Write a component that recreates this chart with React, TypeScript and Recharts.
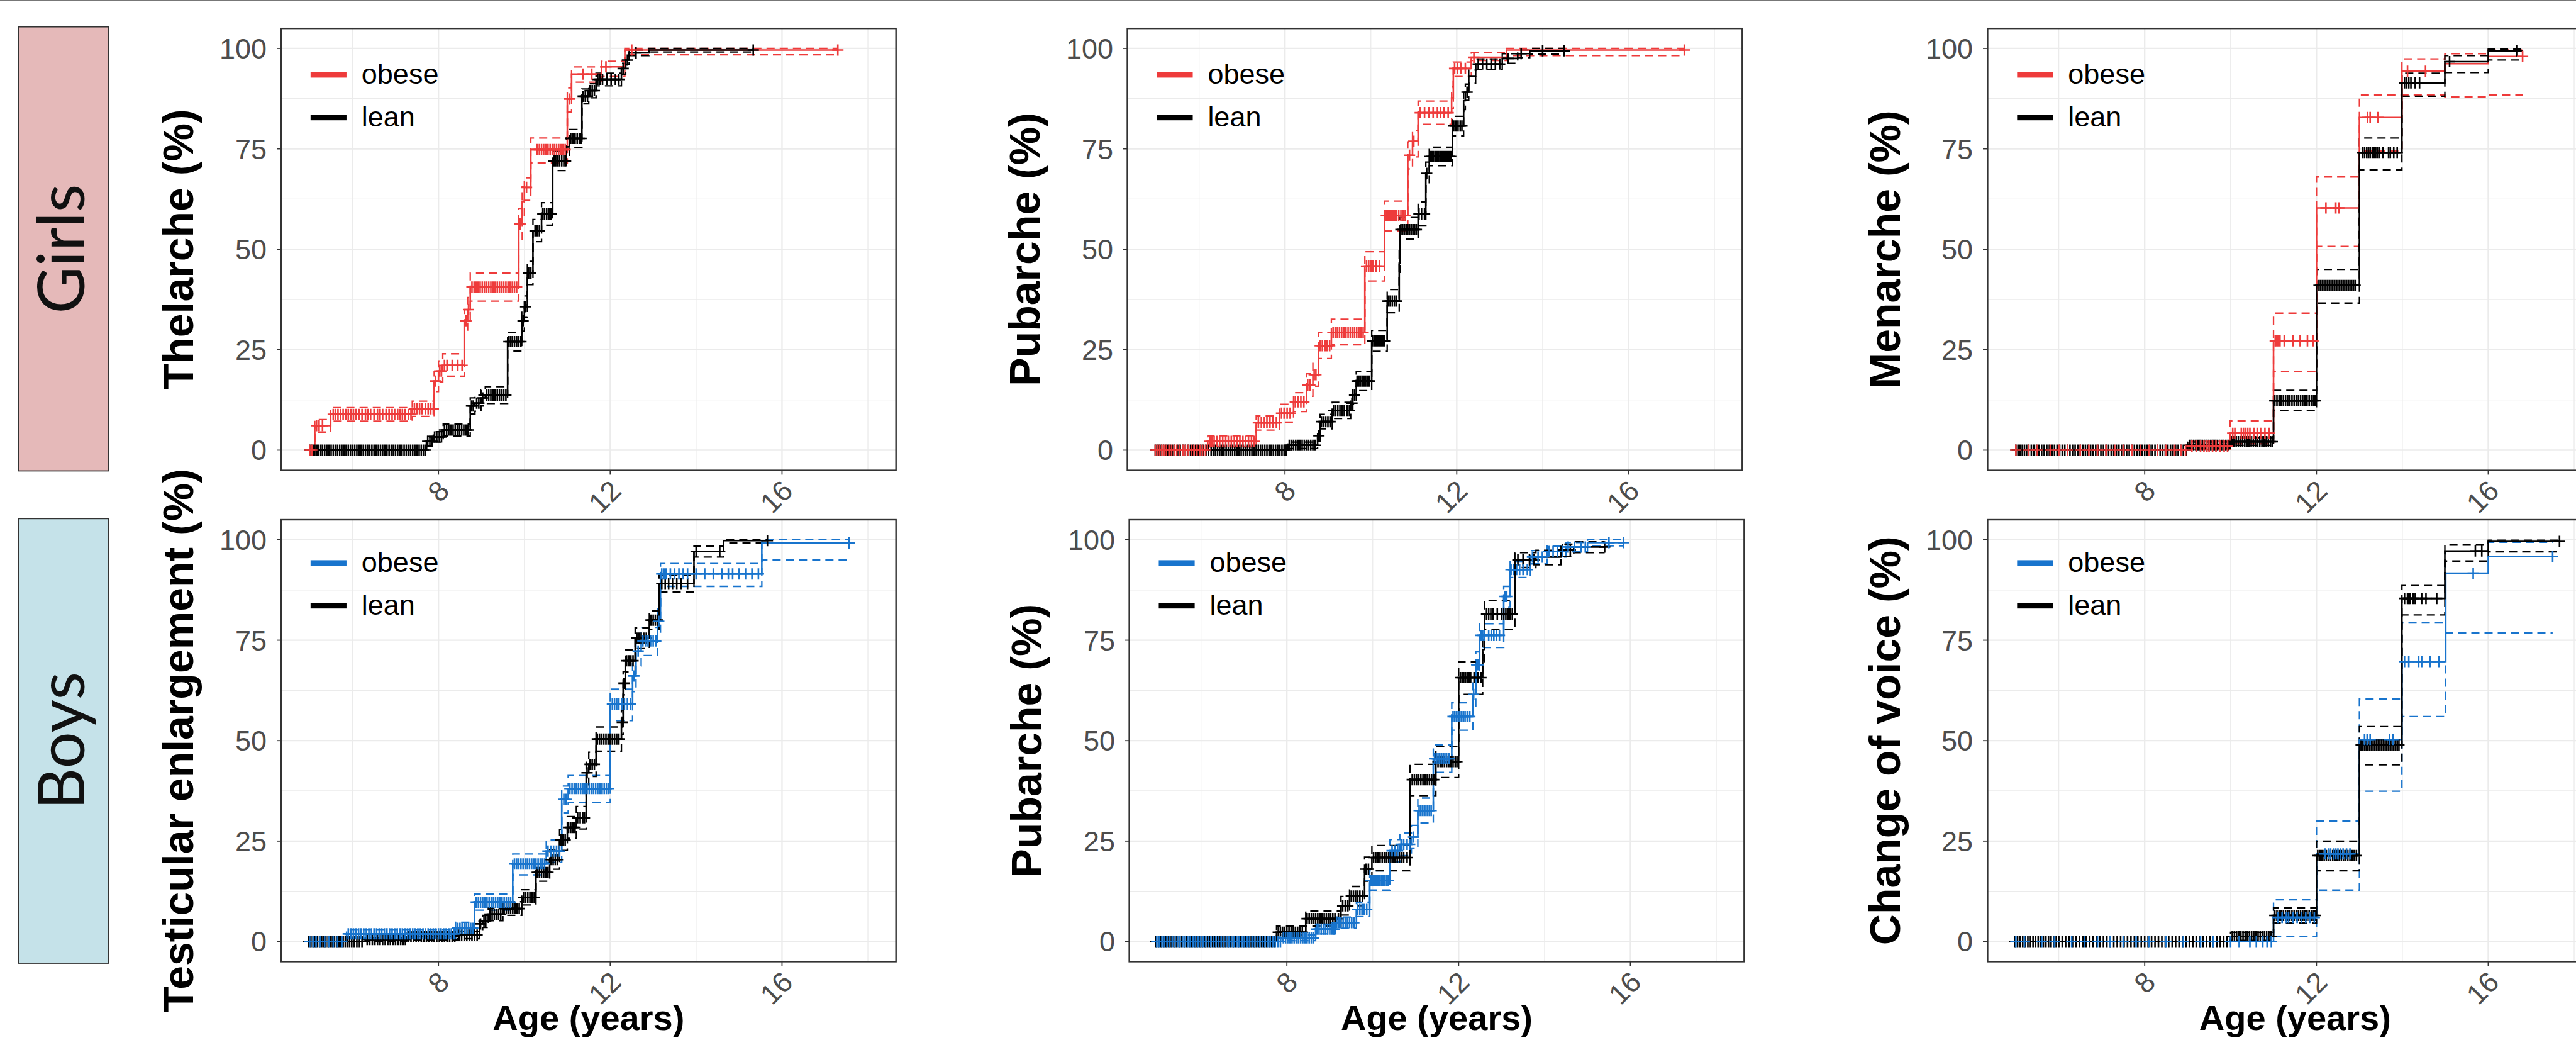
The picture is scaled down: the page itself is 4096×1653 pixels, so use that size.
import React from "react";
import { ComposedChart, Line, Scatter, XAxis, YAxis, CartesianGrid } from "recharts";

// Reference is 4805 px wide; everything is measured there and scaled down.
const S = 4096 / 4805;

// [age, estimate %, lower CI %, upper CI %]
type Step = [number, number, number, number];

// ── Girls · Thelarche ─────────────────────────────────────────────────────────
const thelarcheObese: Step[] = [
  [5.0, 0, 0, 0], [5.12, 6.1, 4.5, 7.6], [5.49, 8.9, 7.2, 10.6], [7.39, 10.3, 8.4, 12.2],
  [7.9, 17.2, 14.6, 19.6], [8.0, 19.7, 17.0, 22.2], [8.1, 21.1, 18.4, 24.0], [8.6, 32.2, 29.2, 35.0],
  [8.68, 35.0, 32.0, 38.0], [8.74, 40.6, 37.1, 44.1], [9.87, 56.3, 52.4, 60.2], [9.95, 61.9, 58.0, 65.5],
  [10.0, 65.4, 62.2, 67.8], [10.15, 74.8, 71.5, 77.7], [11.0, 87.4, 84.2, 90.2], [11.1, 93.6, 91.6, 95.4],
  [11.8, 95.4, 93.0, 96.8], [12.34, 99.6, 98.4, 100], [17.3, 99.6, 98.4, 100],
];
const thelarcheObeseCensor = [
  5.0, 5.05, 5.16, 5.22, 5.3, 5.55, 5.6, 5.66, 5.72, 5.78, 5.84, 5.9, 5.96, 6.02, 6.08, 6.15, 6.22, 6.3,
  6.36, 6.42, 6.5, 6.58, 6.64, 6.7, 6.78, 6.85, 6.92, 6.98, 7.05, 7.1, 7.16, 7.22, 7.3, 7.36, 7.44, 7.5,
  7.56, 7.62, 7.7, 7.76, 7.82, 7.88, 7.93, 8.03, 8.07, 8.14, 8.2, 8.32, 8.45, 8.55, 8.64, 8.7, 8.78, 8.83,
  8.88, 8.92, 8.97, 9.02, 9.07, 9.12, 9.17, 9.22, 9.27, 9.32, 9.37, 9.42, 9.47, 9.52, 9.57, 9.62, 9.67,
  9.72, 9.77, 9.82, 9.9, 10.05, 10.3, 10.35, 10.4, 10.45, 10.5, 10.55, 10.6, 10.65, 10.7, 10.75, 10.8,
  10.85, 10.9, 10.95, 11.05, 11.37, 11.57, 11.9, 12.5, 17.3,
];
const thelarcheLean: Step[] = [
  [4.98, 0, 0, 0], [7.72, 2.2, 1.0, 3.4], [7.88, 3.3, 2.0, 4.6], [8.11, 5.0, 3.5, 6.5],
  [8.74, 11.0, 9.0, 13.0], [8.85, 11.7, 9.7, 13.7], [8.99, 13.0, 11.0, 15.0], [9.09, 13.7, 11.6, 15.8],
  [9.61, 27.0, 24.7, 29.3], [9.94, 32.2, 29.6, 34.8], [10.0, 35.7, 33.0, 38.4], [10.07, 44.1, 41.2, 47.0],
  [10.2, 54.6, 51.9, 57.4], [10.4, 58.8, 56.0, 61.6], [10.66, 72.0, 69.6, 74.4], [10.98, 75.5, 73.1, 77.8],
  [11.05, 77.6, 75.3, 79.8], [11.34, 88.1, 86.2, 89.9], [11.5, 89.5, 87.7, 91.2], [11.67, 92.3, 90.7, 93.8],
  [12.26, 95.0, 93.6, 96.3], [12.36, 97.1, 96.0, 98.2], [12.44, 98.9, 98.2, 99.6], [12.9, 99.6, 99.1, 100],
  [15.33, 99.6, 99.1, 100],
];
const thelarcheLeanCensor = [
  5.0, 5.04, 5.08, 5.12, 5.17, 5.21, 5.26, 5.3, 5.35, 5.4, 5.45, 5.5, 5.55, 5.6, 5.65, 5.7, 5.75, 5.8, 5.85,
  5.9, 5.95, 6.0, 6.05, 6.1, 6.15, 6.2, 6.25, 6.3, 6.35, 6.4, 6.45, 6.5, 6.55, 6.6, 6.65, 6.7, 6.75, 6.8,
  6.85, 6.9, 6.95, 7.0, 7.05, 7.1, 7.15, 7.2, 7.25, 7.3, 7.35, 7.4, 7.45, 7.5, 7.55, 7.6, 7.65, 7.7, 7.75,
  7.8, 7.85, 7.91, 7.96, 8.02, 8.07, 8.14, 8.19, 8.24, 8.29, 8.34, 8.39, 8.44, 8.49, 8.54, 8.59, 8.64, 8.69,
  8.77, 8.81, 8.89, 8.94, 9.03, 9.12, 9.17, 9.22, 9.27, 9.32, 9.37, 9.42, 9.47, 9.52, 9.57, 9.64, 9.68,
  9.72, 9.77, 9.82, 9.87, 9.92, 9.97, 10.03, 10.1, 10.15, 10.25, 10.3, 10.35, 10.43, 10.47, 10.52, 10.57,
  10.62, 10.69, 10.73, 10.78, 10.82, 10.87, 10.92, 10.96, 11.08, 11.13, 11.18, 11.23, 11.28, 11.32, 11.37,
  11.42, 11.47, 11.53, 11.58, 11.63, 11.71, 11.76, 11.82, 11.92, 12.02, 12.12, 12.2, 12.3, 12.4, 12.6, 15.33,
];

// ── Girls · Pubarche ──────────────────────────────────────────────────────────
const pubGirlsObese: Step[] = [
  [4.96, 0, 0, 0], [6.2, 2.2, 0.8, 3.6], [7.33, 6.8, 5.0, 8.5], [7.87, 9.2, 7.0, 11.4],
  [8.2, 12.0, 9.6, 14.3], [8.5, 16.2, 13.4, 19.0], [8.65, 18.8, 15.9, 21.8], [8.78, 26.0, 22.8, 29.3],
  [9.08, 29.3, 26.2, 32.6], [9.86, 45.8, 42.1, 49.4], [10.32, 58.4, 54.6, 62.0], [10.86, 73.4, 70.0, 76.7],
  [10.97, 76.9, 73.0, 79.5], [11.1, 84.0, 81.1, 86.9], [11.88, 87.7, 85.0, 90.4], [11.92, 95.0, 93.0, 96.6],
  [12.34, 97.8, 97.0, 98.9], [13.16, 99.6, 98.2, 100], [17.3, 99.6, 98.2, 100],
];
const pubGirlsObeseCensor = [
  4.98, 5.03, 5.08, 5.13, 5.18, 5.24, 5.3, 5.36, 5.42, 5.48, 5.55, 5.62, 5.68, 5.75, 5.82, 5.88, 5.95, 6.02,
  6.08, 6.15, 6.25, 6.3, 6.35, 6.42, 6.48, 6.55, 6.62, 6.68, 6.75, 6.82, 6.88, 6.95, 7.02, 7.08, 7.15, 7.22,
  7.28, 7.38, 7.45, 7.52, 7.58, 7.65, 7.72, 7.8, 7.92, 7.98, 8.05, 8.12, 8.24, 8.3, 8.37, 8.44, 8.53, 8.58,
  8.68, 8.72, 8.82, 8.87, 8.93, 8.98, 9.04, 9.12, 9.17, 9.22, 9.27, 9.32, 9.37, 9.42, 9.47, 9.52, 9.57,
  9.62, 9.67, 9.72, 9.77, 9.82, 9.9, 9.95, 10.0, 10.05, 10.12, 10.2, 10.36, 10.4, 10.44, 10.48, 10.52,
  10.56, 10.6, 10.65, 10.7, 10.75, 10.8, 10.9, 11.0, 11.15, 11.25, 11.35, 11.45, 11.55, 11.62, 11.7, 11.8,
  11.95, 12.02, 12.1, 12.2, 12.4, 17.3,
];
const pubGirlsLean: Step[] = [
  [4.96, 0, 0, 0], [8.07, 1.2, 0.4, 2.0], [8.76, 3.6, 2.2, 5.0], [8.82, 7.1, 5.3, 8.9],
  [9.1, 9.9, 7.9, 11.9], [9.53, 11.7, 9.6, 13.8], [9.58, 13.7, 11.5, 15.9], [9.66, 17.2, 14.8, 19.6],
  [10.02, 27.2, 24.6, 29.8], [10.38, 37.1, 34.2, 40.0], [10.66, 46.5, 43.4, 49.6], [10.68, 54.9, 52.5, 57.9],
  [11.1, 58.8, 55.8, 61.8], [11.28, 68.9, 66.0, 71.7], [11.36, 73.1, 70.8, 75.4], [11.9, 80.7, 78.2, 83.1],
  [12.16, 87.0, 84.8, 89.1], [12.2, 89.1, 87.1, 91.1], [12.28, 93.0, 91.3, 94.6], [12.44, 96.1, 94.7, 97.4],
  [13.06, 97.5, 96.3, 98.7], [13.42, 98.7, 97.7, 99.6], [13.7, 99.4, 98.6, 100], [14.5, 99.4, 98.6, 100],
];
const pubGirlsLeanCensor = [
  4.98, 5.02, 5.07, 5.12, 5.17, 5.22, 5.27, 5.33, 5.38, 5.43, 5.5, 5.56, 5.62, 5.68, 5.74, 5.8, 5.86, 5.92,
  5.98, 6.04, 6.1, 6.16, 6.22, 6.28, 6.33, 6.38, 6.43, 6.48, 6.53, 6.58, 6.63, 6.68, 6.73, 6.78, 6.83, 6.88,
  6.93, 6.98, 7.03, 7.08, 7.13, 7.18, 7.23, 7.28, 7.33, 7.38, 7.43, 7.48, 7.53, 7.58, 7.63, 7.68, 7.73,
  7.78, 7.83, 7.88, 7.93, 7.98, 8.03, 8.1, 8.15, 8.2, 8.25, 8.3, 8.35, 8.4, 8.45, 8.5, 8.55, 8.6, 8.65, 8.7,
  8.79, 8.85, 8.9, 8.95, 9.0, 9.05, 9.13, 9.18, 9.23, 9.28, 9.33, 9.38, 9.45, 9.5, 9.56, 9.62, 9.68, 9.72,
  9.76, 9.8, 9.84, 9.88, 9.92, 9.96, 10.04, 10.08, 10.12, 10.16, 10.2, 10.24, 10.28, 10.32, 10.4, 10.45,
  10.5, 10.55, 10.6, 10.7, 10.74, 10.78, 10.82, 10.86, 10.9, 10.94, 10.98, 11.02, 11.06, 11.12, 11.18,
  11.25, 11.3, 11.38, 11.42, 11.46, 11.5, 11.54, 11.58, 11.62, 11.66, 11.7, 11.74, 11.78, 11.82, 11.86,
  11.93, 11.98, 12.03, 12.08, 12.12, 12.24, 12.5, 12.6, 12.7, 12.8, 12.9, 13.0, 13.2, 13.5, 14.0, 14.5,
];

// ── Girls · Menarche ──────────────────────────────────────────────────────────
const menarcheObese: Step[] = [
  [5.0, 0, 0, 0], [9.0, 1.0, 0.2, 2.2], [9.99, 4.2, 1.6, 7.3], [11.0, 27.2, 19.5, 34.1],
  [12.0, 60.3, 50.7, 68.0], [13.0, 82.8, 74.5, 88.4], [13.99, 94.3, 88.4, 97.4], [14.99, 96.2, 87.9, 98.7],
  [16.0, 98.0, 88.4, 99.6], [16.8, 98.0, 88.4, 99.6],
];
const menarcheObeseCensor = [
  5.0, 5.3, 5.5, 5.8, 6.0, 6.2, 6.5, 6.7, 6.9, 7.1, 7.3, 7.5, 7.7, 7.9, 8.1, 8.3, 8.5, 8.7, 8.85, 8.95,
  9.1, 9.2, 9.3, 9.38, 9.45, 9.5, 9.58, 9.66, 9.75, 9.85, 9.93, 10.05, 10.1, 10.25, 10.3, 10.35, 10.4,
  10.45, 10.55, 10.62, 10.7, 10.8, 10.9, 11.04, 11.07, 11.1, 11.15, 11.25, 11.45, 11.62, 11.79, 11.92,
  12.22, 12.45, 12.52, 13.19, 13.25, 13.43, 14.12, 14.54, 16.8,
];
const menarcheLean: Step[] = [
  [5.0, 0, 0, 0], [9.0, 1.2, 0.5, 2.0], [9.99, 2.1, 1.2, 3.1], [11.0, 12.3, 9.8, 14.9],
  [12.0, 41.0, 36.6, 45.0], [13.0, 74.1, 69.8, 77.7], [13.99, 91.4, 88.1, 93.8], [14.99, 96.7, 94.0, 98.2],
  [16.0, 99.4, 97.1, 99.8], [16.8, 99.4, 97.1, 99.8],
];
const menarcheLeanCensor = [
  5.0, 5.05, 5.1, 5.15, 5.2, 5.25, 5.3, 5.36, 5.42, 5.48, 5.54, 5.6, 5.66, 5.72, 5.78, 5.84, 5.9, 5.96,
  6.02, 6.08, 6.14, 6.2, 6.26, 6.32, 6.38, 6.44, 6.5, 6.56, 6.62, 6.68, 6.74, 6.8, 6.86, 6.92, 6.98, 7.04,
  7.1, 7.16, 7.22, 7.28, 7.34, 7.4, 7.46, 7.52, 7.58, 7.64, 7.7, 7.76, 7.82, 7.88, 7.94, 8.0, 8.06, 8.12,
  8.18, 8.24, 8.3, 8.36, 8.42, 8.48, 8.54, 8.6, 8.66, 8.72, 8.78, 8.84, 8.9, 8.96, 9.04, 9.09, 9.14, 9.19,
  9.24, 9.29, 9.34, 9.39, 9.44, 9.49, 9.54, 9.59, 9.64, 9.69, 9.74, 9.79, 9.84, 9.89, 9.94, 10.03, 10.08,
  10.13, 10.18, 10.23, 10.28, 10.33, 10.38, 10.43, 10.48, 10.53, 10.58, 10.63, 10.68, 10.73, 10.78, 10.83,
  10.88, 10.93, 10.97, 11.03, 11.08, 11.13, 11.18, 11.23, 11.28, 11.33, 11.38, 11.43, 11.48, 11.53, 11.58,
  11.63, 11.68, 11.73, 11.78, 11.83, 11.88, 11.93, 11.97, 12.06, 12.1, 12.14, 12.18, 12.22, 12.26, 12.3,
  12.34, 12.38, 12.42, 12.46, 12.5, 12.54, 12.58, 12.62, 12.66, 12.7, 12.74, 12.78, 12.82, 12.86, 12.9,
  13.07, 13.12, 13.17, 13.21, 13.25, 13.3, 13.34, 13.38, 13.42, 13.46, 13.55, 13.68, 13.72, 13.8, 13.88,
  14.05, 14.1, 14.15, 14.2, 14.3, 14.4, 15.1, 16.66,
];

// ── Boys · Testicular enlargement ─────────────────────────────────────────────
const testisObese: Step[] = [
  [4.98, 0, 0, 0], [5.86, 1.9, 0.8, 3.0], [8.4, 3.3, 1.8, 4.8], [8.84, 9.8, 7.8, 11.8],
  [9.73, 19.3, 16.6, 21.8], [10.51, 22.5, 19.7, 25.3], [10.87, 35.4, 32.0, 38.7], [11.02, 38.1, 34.6, 41.3],
  [12.0, 59.1, 55.0, 62.8], [12.52, 66.1, 62.2, 69.8], [12.6, 72.3, 68.6, 75.8], [12.72, 74.8, 71.2, 78.2],
  [13.1, 79.7, 76.3, 82.8], [13.17, 91.5, 88.4, 94.1], [15.53, 99.2, 95.0, 100], [17.56, 99.2, 95.0, 100],
];
const testisObeseCensor = [
  5.0, 5.08, 5.15, 5.25, 5.35, 5.45, 5.55, 5.65, 5.75, 5.9, 5.96, 6.02, 6.08, 6.14, 6.2, 6.26, 6.32, 6.38,
  6.44, 6.5, 6.56, 6.62, 6.68, 6.74, 6.8, 6.86, 6.92, 6.98, 7.04, 7.1, 7.16, 7.22, 7.28, 7.34, 7.4, 7.46,
  7.52, 7.58, 7.64, 7.7, 7.76, 7.82, 7.88, 7.94, 8.0, 8.06, 8.12, 8.18, 8.24, 8.3, 8.36, 8.45, 8.5, 8.55,
  8.6, 8.65, 8.7, 8.75, 8.8, 8.88, 8.93, 8.98, 9.03, 9.08, 9.13, 9.18, 9.23, 9.28, 9.33, 9.38, 9.43, 9.48,
  9.53, 9.58, 9.63, 9.68, 9.77, 9.82, 9.87, 9.92, 9.97, 10.02, 10.07, 10.12, 10.17, 10.22, 10.27, 10.32,
  10.37, 10.42, 10.47, 10.55, 10.62, 10.68, 10.75, 10.82, 10.92, 10.97, 11.06, 11.11, 11.16, 11.21, 11.26,
  11.31, 11.36, 11.41, 11.46, 11.51, 11.56, 11.61, 11.66, 11.71, 11.76, 11.81, 11.86, 11.91, 11.96, 12.05,
  12.1, 12.15, 12.2, 12.27, 12.33, 12.4, 12.47, 12.55, 12.65, 12.76, 12.82, 12.88, 12.94, 13.0, 13.06,
  13.13, 13.2, 13.25, 13.3, 13.4, 13.5, 13.6, 13.7, 13.8, 14.0, 14.2, 14.4, 14.6, 14.75, 14.85, 15.0, 15.15,
  15.3, 15.45, 17.56,
];
const testisLean: Step[] = [
  [4.98, 0, 0, 0], [6.3, 0.5, 0.1, 1.0], [7.26, 1.2, 0.4, 2.0], [8.44, 1.6, 0.7, 2.5],
  [8.96, 4.4, 3.0, 5.8], [9.03, 5.0, 3.5, 6.5], [9.16, 6.8, 5.2, 8.4], [9.5, 8.2, 6.5, 9.9],
  [9.94, 11.0, 9.1, 12.9], [10.27, 17.2, 15.0, 19.4], [10.59, 20.4, 18.0, 22.8], [10.82, 25.3, 22.7, 27.9],
  [11.0, 28.4, 25.7, 31.1], [11.21, 30.8, 28.0, 33.6], [11.44, 42.0, 39.0, 45.0], [11.5, 44.1, 41.1, 47.1],
  [11.67, 50.4, 47.4, 53.4], [12.26, 54.6, 51.6, 57.6], [12.3, 64.3, 61.4, 67.2], [12.35, 69.9, 67.1, 72.6],
  [12.58, 75.5, 72.9, 78.1], [12.91, 80.0, 77.6, 82.3], [13.14, 89.1, 87.0, 91.1], [13.95, 97.1, 95.7, 98.4],
  [14.64, 99.8, 99.2, 100], [15.66, 99.8, 99.2, 100],
];
const testisLeanCensor = [
  4.98, 5.03, 5.08, 5.13, 5.18, 5.23, 5.28, 5.33, 5.38, 5.43, 5.48, 5.53, 5.58, 5.63, 5.68, 5.73, 5.78,
  5.83, 5.88, 5.93, 5.98, 6.04, 6.1, 6.16, 6.22, 6.34, 6.4, 6.46, 6.52, 6.58, 6.64, 6.7, 6.76, 6.82, 6.88,
  6.94, 7.0, 7.06, 7.12, 7.18, 7.23, 7.3, 7.36, 7.42, 7.48, 7.54, 7.6, 7.66, 7.72, 7.78, 7.84, 7.9, 7.96,
  8.02, 8.08, 8.14, 8.2, 8.26, 8.32, 8.38, 8.48, 8.54, 8.6, 8.66, 8.72, 8.78, 8.84, 8.9, 8.98, 9.06, 9.1,
  9.2, 9.25, 9.3, 9.35, 9.4, 9.45, 9.53, 9.58, 9.63, 9.68, 9.73, 9.78, 9.83, 9.88, 9.98, 10.03, 10.08,
  10.13, 10.18, 10.23, 10.3, 10.35, 10.4, 10.45, 10.5, 10.55, 10.62, 10.67, 10.72, 10.77, 10.85, 10.9,
  10.95, 11.03, 11.08, 11.13, 11.18, 11.24, 11.3, 11.36, 11.4, 11.46, 11.53, 11.58, 11.63, 11.7, 11.75,
  11.8, 11.85, 11.9, 11.95, 12.0, 12.05, 12.1, 12.15, 12.2, 12.28, 12.32, 12.38, 12.43, 12.48, 12.53,
  12.62, 12.67, 12.72, 12.78, 12.84, 12.95, 13.0, 13.05, 13.1, 13.2, 13.28, 13.36, 13.45, 13.55, 13.65,
  13.8, 14.0, 14.55, 15.66,
];

// ── Boys · Pubarche ───────────────────────────────────────────────────────────
const pubBoysObese: Step[] = [
  [4.95, 0, 0, 0], [7.89, 0.9, 0.2, 1.6], [8.67, 3.1, 1.9, 4.3], [9.13, 4.7, 3.3, 6.1],
  [9.62, 8.0, 6.2, 9.8], [9.93, 15.2, 12.8, 17.6], [10.4, 22.6, 19.8, 25.4], [10.63, 24.2, 21.4, 27.0],
  [10.9, 26.0, 23.1, 28.9], [11.05, 32.6, 29.5, 35.7], [11.41, 45.5, 42.1, 48.9], [11.84, 56.0, 52.6, 59.4],
  [12.33, 61.5, 58.1, 64.8], [12.4, 68.9, 65.6, 72.1], [12.49, 76.2, 73.2, 79.1], [13.05, 85.9, 83.3, 88.4],
  [13.2, 92.6, 90.6, 94.5], [13.67, 95.7, 94.0, 97.3], [14.06, 97.1, 95.7, 98.4], [14.5, 98.2, 97.0, 99.3],
  [15.0, 99.3, 98.5, 100], [15.84, 99.3, 98.5, 100],
];
const pubBoysObeseCensor = [
  4.97, 5.03, 5.09, 5.15, 5.21, 5.27, 5.33, 5.39, 5.45, 5.51, 5.57, 5.63, 5.69, 5.75, 5.81, 5.87, 5.93,
  5.99, 6.05, 6.11, 6.17, 6.23, 6.29, 6.35, 6.41, 6.47, 6.53, 6.59, 6.65, 6.71, 6.77, 6.83, 6.89, 6.95,
  7.01, 7.07, 7.13, 7.19, 7.25, 7.31, 7.37, 7.43, 7.49, 7.55, 7.61, 7.67, 7.73, 7.79, 7.85, 7.92, 7.97,
  8.02, 8.07, 8.12, 8.17, 8.22, 8.27, 8.32, 8.37, 8.42, 8.47, 8.52, 8.57, 8.62, 8.7, 8.75, 8.8, 8.85, 8.9,
  8.95, 9.0, 9.05, 9.1, 9.16, 9.21, 9.26, 9.31, 9.36, 9.41, 9.46, 9.51, 9.56, 9.65, 9.7, 9.75, 9.8, 9.86,
  9.96, 10.0, 10.04, 10.08, 10.12, 10.16, 10.2, 10.24, 10.28, 10.32, 10.36, 10.45, 10.52, 10.58, 10.66,
  10.72, 10.8, 10.86, 10.95, 11.08, 11.12, 11.16, 11.2, 11.24, 11.28, 11.32, 11.36, 11.44, 11.48, 11.52,
  11.56, 11.6, 11.64, 11.68, 11.72, 11.78, 11.87, 11.91, 11.95, 11.99, 12.03, 12.07, 12.11, 12.15, 12.2,
  12.26, 12.35, 12.42, 12.45, 12.52, 12.56, 12.6, 12.7, 12.76, 12.82, 12.88, 12.95, 13.08, 13.12, 13.22,
  13.28, 13.35, 13.42, 13.5, 13.6, 13.72, 13.85, 13.95, 14.1, 14.2, 14.3, 14.42, 14.55, 14.7, 14.85, 14.95,
  15.5, 15.84,
];
const pubBoysLean: Step[] = [
  [4.95, 0, 0, 0], [7.76, 2.3, 0.8, 3.8], [8.44, 5.7, 3.8, 7.6], [9.26, 8.9, 6.6, 11.2],
  [9.46, 11.3, 8.9, 13.7], [9.81, 18.0, 15.0, 21.0], [9.98, 20.9, 17.6, 23.9], [10.87, 40.3, 36.3, 44.1],
  [11.47, 44.8, 40.8, 48.6], [12.0, 65.7, 61.5, 69.6], [12.56, 72.7, 68.9, 76.3], [12.6, 81.5, 77.6, 84.9],
  [13.31, 95.0, 93.1, 96.8], [13.8, 95.7, 93.8, 97.4], [14.38, 97.5, 95.9, 98.9], [14.68, 98.2, 96.8, 99.5],
  [15.4, 98.2, 96.8, 99.5],
];
const pubBoysLeanCensor = [
  4.95, 5.01, 5.07, 5.13, 5.19, 5.25, 5.31, 5.37, 5.43, 5.49, 5.55, 5.61, 5.67, 5.73, 5.79, 5.85, 5.91,
  5.97, 6.03, 6.09, 6.15, 6.21, 6.27, 6.33, 6.39, 6.45, 6.51, 6.57, 6.63, 6.69, 6.75, 6.81, 6.87, 6.93,
  6.99, 7.05, 7.11, 7.17, 7.23, 7.29, 7.35, 7.41, 7.47, 7.53, 7.59, 7.65, 7.71, 7.8, 7.85, 7.9, 7.95, 8.0,
  8.05, 8.1, 8.15, 8.2, 8.25, 8.3, 8.36, 8.47, 8.52, 8.57, 8.62, 8.67, 8.72, 8.77, 8.82, 8.87, 8.92, 8.97,
  9.02, 9.07, 9.12, 9.2, 9.3, 9.36, 9.42, 9.5, 9.55, 9.6, 9.65, 9.7, 9.76, 9.84, 9.9, 10.02, 10.07, 10.12,
  10.17, 10.22, 10.27, 10.32, 10.37, 10.42, 10.47, 10.52, 10.57, 10.62, 10.67, 10.72, 10.8, 10.92, 10.97,
  11.02, 11.07, 11.12, 11.17, 11.22, 11.27, 11.32, 11.37, 11.42, 11.52, 11.57, 11.62, 11.67, 11.72, 11.77,
  11.82, 11.87, 11.92, 11.96, 12.04, 12.08, 12.12, 12.16, 12.2, 12.24, 12.28, 12.36, 12.45, 12.52, 12.65,
  12.7, 12.75, 12.8, 12.9, 13.0, 13.05, 13.1, 13.15, 13.2, 13.25, 13.38, 13.5, 13.65, 13.75, 14.42, 14.6,
  15.4,
];

// ── Boys · Change of voice ────────────────────────────────────────────────────
const voiceObese: Step[] = [
  [4.95, 0, 0, 0], [11.0, 6.0, 1.2, 10.4], [12.0, 21.8, 12.8, 30.0], [13.0, 50.3, 37.4, 60.4],
  [13.99, 69.7, 56.0, 79.3], [15.01, 91.7, 76.8, 97.1], [16.0, 95.8, 76.8, 99.4], [17.5, 95.8, 76.8, 99.4],
];
const voiceObeseCensor = [
  5.0, 5.2, 5.6, 5.9, 6.3, 6.6, 6.9, 7.2, 7.5, 7.8, 8.1, 8.5, 8.9, 9.3, 9.6, 10.0, 10.2, 10.45, 10.6, 10.75,
  10.85, 10.95, 11.1, 11.2, 11.3, 11.35, 11.45, 11.55, 11.65, 11.75, 11.85, 11.95, 12.2, 12.28, 12.33,
  12.4, 12.45, 12.5, 12.56, 12.62, 12.7, 12.78, 13.12, 13.18, 13.25, 13.7, 13.78, 14.05, 14.15, 14.38,
  14.45, 14.65, 14.85, 15.65, 17.5,
];
const voiceLean: Step[] = [
  [4.95, 0, 0, 0], [10.0, 1.3, 0.3, 2.3], [11.0, 6.5, 4.6, 8.4], [12.0, 21.4, 17.6, 25.0],
  [13.0, 48.9, 44.0, 53.5], [13.99, 85.4, 81.3, 88.6], [14.99, 97.2, 94.7, 98.7], [16.0, 99.6, 97.0, 99.9],
  [17.66, 99.6, 97.0, 99.9],
];
const voiceLeanCensor = [
  4.98, 5.04, 5.1, 5.16, 5.22, 5.28, 5.34, 5.4, 5.46, 5.52, 5.58, 5.64, 5.7, 5.76, 5.82, 5.88, 5.94, 6.0,
  6.08, 6.16, 6.24, 6.32, 6.4, 6.48, 6.56, 6.64, 6.72, 6.8, 6.88, 6.96, 7.04, 7.12, 7.2, 7.28, 7.36, 7.44,
  7.52, 7.6, 7.68, 7.76, 7.84, 7.92, 8.0, 8.08, 8.16, 8.24, 8.32, 8.4, 8.48, 8.56, 8.64, 8.72, 8.8, 8.88,
  8.96, 9.04, 9.12, 9.2, 9.28, 9.36, 9.44, 9.52, 9.6, 9.68, 9.76, 9.84, 9.92, 10.04, 10.09, 10.14, 10.19,
  10.24, 10.29, 10.34, 10.39, 10.44, 10.49, 10.54, 10.59, 10.64, 10.69, 10.74, 10.79, 10.84, 10.89, 10.94,
  11.03, 11.08, 11.13, 11.18, 11.23, 11.28, 11.33, 11.38, 11.43, 11.48, 11.53, 11.58, 11.63, 11.68, 11.73,
  11.78, 11.83, 11.88, 11.93, 11.97, 12.03, 12.08, 12.13, 12.18, 12.23, 12.28, 12.33, 12.38, 12.43, 12.48,
  12.53, 12.58, 12.63, 12.68, 12.73, 12.78, 12.83, 12.88, 12.93, 13.04, 13.08, 13.12, 13.16, 13.2, 13.24,
  13.28, 13.32, 13.36, 13.4, 13.44, 13.48, 13.52, 13.56, 13.6, 13.64, 13.68, 13.72, 13.76, 13.8, 13.84,
  13.88, 13.92, 14.05, 14.12, 14.15, 14.18, 14.25, 14.3, 14.45, 14.55, 14.8, 15.7, 15.85, 17.66,
];

// ── Axes ──────────────────────────────────────────────────────────────────────
const X_DOMAIN: [number, number] = [4.336, 18.655];
const X_TICKS = [8, 12, 16];
const X_MINOR = [6, 10, 14, 18];
const Y_DOMAIN: [number, number] = [-5, 105];
const Y_TICKS = [0, 25, 50, 75, 100];
const Y_MINOR = [12.5, 37.5, 62.5, 87.5];
const GROUPS = ["obese", "lean"];

const RED = "#EE3B3B";
const BLUE = "#1874CD";
const FONT = "'Liberation Sans', Arial, Helvetica, sans-serif";

// panel geometry in reference pixels
const PW = 1147;
const PH = 824;

type PanelDef = {
  id: string;
  title: string;
  left: number;
  top: number;
  color: string;
  keyDy: number;
  xTitle: boolean;
  obese: Step[];
  obeseCensor: number[];
  lean: Step[];
  leanCensor: number[];
};

const PANELS: PanelDef[] = [
  { id: "th", title: "Thelarche (%)", left: 524.3, top: 53, color: RED, keyDy: 86.5, xTitle: false,
    obese: thelarcheObese, obeseCensor: thelarcheObeseCensor, lean: thelarcheLean, leanCensor: thelarcheLeanCensor },
  { id: "pg", title: "Pubarche (%)", left: 2102.8, top: 53, color: RED, keyDy: 86.5, xTitle: false,
    obese: pubGirlsObese, obeseCensor: pubGirlsObeseCensor, lean: pubGirlsLean, leanCensor: pubGirlsLeanCensor },
  { id: "me", title: "Menarche (%)", left: 3707.5, top: 53, color: RED, keyDy: 86.5, xTitle: false,
    obese: menarcheObese, obeseCensor: menarcheObeseCensor, lean: menarcheLean, leanCensor: menarcheLeanCensor },
  { id: "te", title: "Testicular enlargement (%)", left: 524.3, top: 969, color: BLUE, keyDy: 80.8, xTitle: true,
    obese: testisObese, obeseCensor: testisObeseCensor, lean: testisLean, leanCensor: testisLeanCensor },
  { id: "pb", title: "Pubarche (%)", left: 2106.4, top: 969, color: BLUE, keyDy: 80.8, xTitle: true,
    obese: pubBoysObese, obeseCensor: pubBoysObeseCensor, lean: pubBoysLean, leanCensor: pubBoysLeanCensor },
  { id: "vo", title: "Change of voice (%)", left: 3707.5, top: 969, color: BLUE, keyDy: 80.8, xTitle: true,
    obese: voiceObese, obeseCensor: voiceObeseCensor, lean: voiceLean, leanCensor: voiceLeanCensor },
];

// value of the step curve at a given age
function valueAt(steps: Step[], age: number) {
  let v = steps[0][1];
  for (const s of steps) if (s[0] <= age + 1e-9) v = s[1];
  return v;
}

const plus = (color: string) => (props: any) => {
  const { cx, cy } = props;
  if (cx == null || cy == null) return <g />;
  const h = 9;
  return (
    <path
      d={`M${cx - h},${cy}H${cx + h}M${cx},${cy - h}V${cy + h}`}
      stroke={color}
      strokeWidth={2.6}
      fill="none"
    />
  );
};

const YW = 130; // y-axis area width (output px)
const MT = 30;
const MR = 14;
const XH = 80;

function Panel({ p }: { p: PanelDef }) {
  const w = PW * S;
  const h = PH * S;
  const chartW = YW + w + MR;
  const chartH = MT + h + XH;
  const bottom = MT + h;

  const curve = (steps: Step[], k: number) => steps.map(s => ({ x: s[0], y: s[k] }));
  const marks = (steps: Step[], ages: number[]) => ages.map(a => ({ x: a, y: valueAt(steps, a) }));

  const XTick = (props: any) => {
    const { x, payload } = props;
    const ax = x + 8.8;
    const ay = bottom + 24.5;
    return (
      <text
        x={ax}
        y={ay}
        textAnchor="end"
        dominantBaseline="central"
        transform={`rotate(-45, ${ax}, ${ay})`}
        fill="#4D4D4D"
        fontSize={45}
        fontFamily={FONT}
      >
        {payload.value}
      </text>
    );
  };

  const series = [
    { key: "obese", steps: p.obese, color: p.color },
    { key: "lean", steps: p.lean, color: "#000000" },
  ];

  return (
    <div style={{ position: "absolute", left: p.left * S - YW, top: p.top * S - MT }}>
      <ComposedChart width={chartW} height={chartH} margin={{ top: MT, right: MR, bottom: 0, left: 0 }}>
        <CartesianGrid
          verticalValues={X_MINOR}
          horizontalValues={Y_MINOR}
          stroke="#EBEBEB"
          strokeWidth={1.3}
        />
        <CartesianGrid
          verticalValues={X_TICKS}
          horizontalValues={Y_TICKS}
          stroke="#EBEBEB"
          strokeWidth={2.3}
        />
        <XAxis
          dataKey="x"
          type="number"
          domain={X_DOMAIN}
          allowDataOverflow
          ticks={X_TICKS}
          interval={0}
          height={XH}
          axisLine={false}
          tickLine={{ stroke: "#333333", strokeWidth: 1.8 }}
          tickSize={7}
          tick={XTick}
        />
        <YAxis
          type="number"
          domain={Y_DOMAIN}
          allowDataOverflow
          ticks={Y_TICKS}
          interval={0}
          width={YW}
          axisLine={false}
          tickLine={{ stroke: "#333333", strokeWidth: 1.8 }}
          tickSize={7}
          tickMargin={16}
          tick={{ fill: "#4D4D4D", fontSize: 45, fontFamily: FONT }}
        />
        {/* confidence bands (dashed) */}
        {series.flatMap(s => [
          <Line key={s.key + "lo"} data={curve(s.steps, 2)} dataKey="y" type="stepAfter" stroke={s.color}
            strokeWidth={2.3} strokeDasharray="13 8" dot={false} activeDot={false} isAnimationActive={false} />,
          <Line key={s.key + "hi"} data={curve(s.steps, 3)} dataKey="y" type="stepAfter" stroke={s.color}
            strokeWidth={2.3} strokeDasharray="13 8" dot={false} activeDot={false} isAnimationActive={false} />,
        ])}
        {/* estimates */}
        {series.map(s => (
          <Line key={s.key + "est"} data={curve(s.steps, 1)} dataKey="y" type="stepAfter" stroke={s.color}
            strokeWidth={2.6} dot={false} activeDot={false} isAnimationActive={false} />
        ))}
        {/* censoring marks */}
        <Scatter data={marks(p.lean, p.leanCensor)} dataKey="y" shape={plus("#000000")} isAnimationActive={false} />
        <Scatter data={marks(p.obese, p.obeseCensor)} dataKey="y" shape={plus(p.color)} isAnimationActive={false} />
      </ComposedChart>
    </div>
  );
}

function Decorations() {
  return (
    <svg width={4096} height={1653} style={{ position: "absolute", left: 0, top: 0, pointerEvents: "none" }}>
      <line x1={0} y1={0.8} x2={4096} y2={0.8} stroke="#777777" strokeWidth={1.6} />
      {/* row strips */}
      <rect x={35 * S} y={50 * S} width={167 * S} height={828 * S} fill="#E5B9B9" stroke="#333333" strokeWidth={1.8} />
      <text transform={`translate(${157 * S}, ${464 * S}) rotate(-90)`} textAnchor="middle"
        fontFamily="Lato, 'Open Sans', sans-serif" fontWeight={400} fontSize={103} fill="#111">Girls</text>
      <rect x={35 * S} y={967 * S} width={167 * S} height={829 * S} fill="#C5E2E9" stroke="#333333" strokeWidth={1.8} />
      <text transform={`translate(${157 * S}, ${1381.5 * S}) rotate(-90)`} textAnchor="middle"
        fontFamily="Lato, 'Open Sans', sans-serif" fontWeight={400} fontSize={103} fill="#111">Boys</text>

      {PANELS.map(p => {
        const L = p.left * S;
        const T = p.top * S;
        const key1 = (p.top + p.keyDy) * S;
        const key2 = (p.top + p.keyDy + 79.5) * S;
        return (
          <g key={p.id}>
            <rect x={L} y={T} width={PW * S} height={PH * S} fill="none" stroke="#333333" strokeWidth={2.4} />
            <text transform={`translate(${(p.left - 164) * S}, ${(p.top + PH / 2) * S}) rotate(-90)`}
              textAnchor="middle" fontFamily={FONT} fontWeight={700} fontSize={68} fill="#000">{p.title}</text>
            {p.xTitle && (
              <text x={(p.left + PW / 2) * S} y={(p.top + PH + 127) * S} textAnchor="middle"
                fontFamily={FONT} fontWeight={700} fontSize={56} fill="#000">Age (years)</text>
            )}
            {/* legend */}
            {GROUPS.map((g, i) => {
              const cy = i === 0 ? key1 : key2;
              return (
                <g key={g}>
                  <rect x={(p.left + 55) * S} y={cy - 4.5} width={67 * S} height={9}
                    fill={i === 0 ? p.color : "#000"} />
                  <text x={(p.left + 150) * S} y={cy + 17 * S} fontFamily={FONT} fontSize={45} fill="#000">{g}</text>
                </g>
              );
            })}
          </g>
        );
      })}
    </svg>
  );
}

export default function App() {
  return (
    <div style={{ position: "absolute", left: 0, top: 0, width: 4096, height: 1653, overflow: "hidden", background: "#fff" }}>
      {PANELS.map(p => <Panel key={p.id} p={p} />)}
      <Decorations />
    </div>
  );
}
